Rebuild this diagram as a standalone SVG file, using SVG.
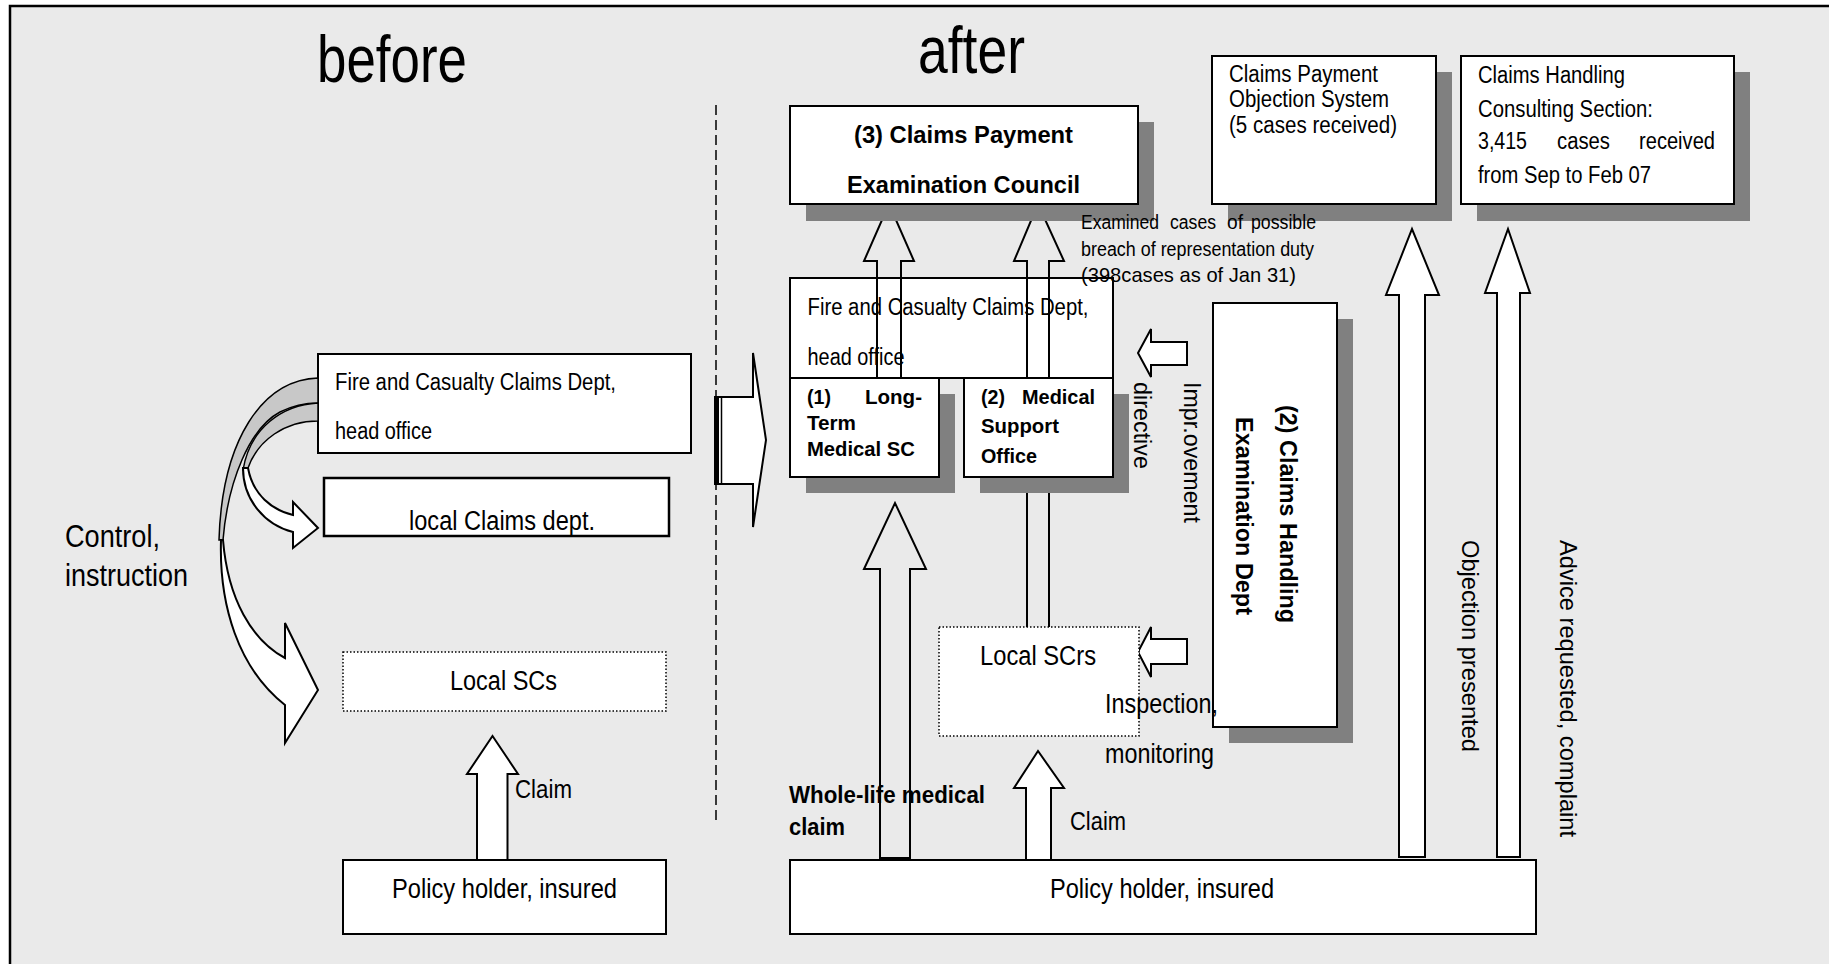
<svg xmlns="http://www.w3.org/2000/svg" width="1829" height="964" viewBox="0 0 1829 964">
<style>
.t{font-family:"Liberation Sans",Arial,Helvetica,sans-serif;fill:#000}
.b{font-weight:bold}
.box{fill:#fff;stroke:#000;stroke-width:2}
.dot{fill:#fff;stroke:#000;stroke-width:1.5;stroke-dasharray:1.5 2}
.sh{fill:#808080}
.aw{fill:#fff;stroke:#000;stroke-width:2;stroke-linejoin:miter}
.ao{fill:none;stroke:#000;stroke-width:2;stroke-linejoin:miter}
.gb{fill:#c8c8c8;stroke:#000;stroke-width:1.5}
</style>
<rect x="0" y="0" width="1829" height="964" fill="#fff"/>
<rect x="10" y="6" width="1840" height="980" fill="#eaeaea" stroke="#000" stroke-width="2.5"/>
<g id="divider"><line x1="716" y1="105" x2="716" y2="822" stroke="#000" stroke-width="1.5" stroke-dasharray="10 5"/></g>
<g id="heading-before"><text class="t" x="317" y="82" font-size="67" textLength="150" lengthAdjust="spacingAndGlyphs">before</text></g>
<g id="heading-after"><text class="t" x="918" y="73" font-size="67" textLength="107" lengthAdjust="spacingAndGlyphs">after</text></g>

<g id="ho-before">
<rect class="box" x="318" y="354" width="373" height="99"/>
<text class="t" x="335" y="390" font-size="23" textLength="281" lengthAdjust="spacingAndGlyphs">Fire and Casualty Claims Dept,</text>
<text class="t" x="335" y="439" font-size="23" textLength="97" lengthAdjust="spacingAndGlyphs">head office</text>
</g>
<g id="local-claims">
<rect x="324" y="478" width="345" height="58" fill="#fff" stroke="#000" stroke-width="2.5"/>
<text class="t" x="409" y="530" font-size="27" textLength="186" lengthAdjust="spacingAndGlyphs">local Claims dept.</text>
</g>
<g id="ho-after">
<rect class="box" x="790" y="278" width="323" height="100"/>
<text class="t" x="807.5" y="315" font-size="23" textLength="281" lengthAdjust="spacingAndGlyphs">Fire and Casualty Claims Dept,</text>
<text class="t" x="807.5" y="365" font-size="23" textLength="97" lengthAdjust="spacingAndGlyphs">head office</text>
</g>

<g id="connectors">
<path class="gb" d="M318,378 C262,380 222,440 219,540 L223,540 C228,480 250,428 280,412 C292,406 305,403 318,403 Z"/>
<path class="gb" d="M318,403 C282,405 250,428 243,470 L248,468 C258,440 285,421 318,421 Z"/>
<path class="aw" stroke-width="1.5" d="M221,540 C219,605 238,668 285,705 L285,743 L318,690 L285,623 L285,658 C252,640 228,600 223,540 Z"/>
<path class="aw" stroke-width="1.5" d="M243,468 C243,500 265,525 293,532 L293,548 L318,528 L293,502 L293,515 C272,510 253,495 248,468 Z"/>
<path class="aw" d="M477,860 V774 H467 L492.5,736 L518,774 H507.5 V860 Z"/>
<path class="aw" d="M715,397 H753 V353 L766,440 L753,527 V484 H715 Z"/>
<rect x="715" y="397" width="4" height="87" fill="#000"/>
<line x1="721.5" y1="397" x2="721.5" y2="484" stroke="#000" stroke-width="1.5"/>
<path class="ao" d="M877,378 V261 H864 L889,204 L914,261 H901 V378"/>
<path class="ao" d="M1027,627 V261 H1014 L1038,204 L1064,261 H1049 V627"/>
<path class="ao" d="M880,858 V569 H864 L895,503 L926,569 H910 V858 Z"/>
<path class="aw" d="M1026,860 V788 H1014 L1038,751 L1064,788 H1051 V860 Z"/>
<path class="aw" d="M1399,857 V295 H1386 L1412,229 L1439,295 H1425 V857 Z"/>
<path class="aw" d="M1497,857 V293 H1485 L1508,229 L1530,293 H1520 V857 Z"/>
<path class="aw" d="M1187,342 H1151 V329 L1138,353 L1151,377 V365 H1187 Z"/>
<path class="aw" d="M1187,639 H1151 V627 L1138,652 L1151,677 V664 H1187 Z"/>
</g>

<g id="local-scs">
<rect class="dot" x="343" y="652" width="323" height="59"/>
<text class="t" x="450" y="690" font-size="27" textLength="107" lengthAdjust="spacingAndGlyphs">Local SCs</text>
</g>
<g id="ph-before">
<rect class="box" x="343" y="860" width="323" height="74"/>
<text class="t" x="392" y="898" font-size="27" textLength="225" lengthAdjust="spacingAndGlyphs">Policy holder, insured</text>
</g>
<g id="council">
<rect class="sh" x="806" y="122" width="348" height="99"/>
<rect class="box" x="790" y="106" width="348" height="98"/>
<text class="t b" x="854" y="143" font-size="24" textLength="219" lengthAdjust="spacingAndGlyphs">(3) Claims Payment</text>
<text class="t b" x="847" y="193" font-size="24" textLength="233" lengthAdjust="spacingAndGlyphs">Examination Council</text>
</g>
<g id="longterm">
<rect class="sh" x="806" y="394" width="149" height="99"/>
<rect class="box" x="790" y="378" width="149" height="99"/>
<text class="t b" x="807" y="404" font-size="21" textLength="24" lengthAdjust="spacingAndGlyphs">(1)</text>
<text class="t b" x="865" y="404" font-size="21" textLength="57" lengthAdjust="spacingAndGlyphs">Long-</text>
<text class="t b" x="807" y="430" font-size="21" textLength="49" lengthAdjust="spacingAndGlyphs">Term</text>
<text class="t b" x="807" y="456" font-size="21" textLength="108" lengthAdjust="spacingAndGlyphs">Medical SC</text>
</g>
<g id="medsupport">
<rect class="sh" x="980" y="394" width="149" height="99"/>
<rect class="box" x="964" y="378" width="149" height="99"/>
<text class="t b" x="981" y="404" font-size="21" textLength="24" lengthAdjust="spacingAndGlyphs">(2)</text>
<text class="t b" x="1022" y="404" font-size="21" textLength="73" lengthAdjust="spacingAndGlyphs">Medical</text>
<text class="t b" x="981" y="433" font-size="21" textLength="78" lengthAdjust="spacingAndGlyphs">Support</text>
<text class="t b" x="981" y="463" font-size="21" textLength="56" lengthAdjust="spacingAndGlyphs">Office</text>
</g>
<g id="local-scrs">
<rect class="dot" x="939" y="627" width="200" height="109"/>
<text class="t" x="980" y="665" font-size="27" textLength="116" lengthAdjust="spacingAndGlyphs">Local SCrs</text>
</g>
<g id="ph-after">
<rect class="box" x="790" y="860" width="746" height="74"/>
<text class="t" x="1050" y="898" font-size="27" textLength="224" lengthAdjust="spacingAndGlyphs">Policy holder, insured</text>
</g>
<g id="objection-system">
<rect class="sh" x="1228" y="72" width="224" height="149"/>
<rect class="box" x="1212" y="56" width="224" height="148"/>
<text class="t" x="1229" y="82" font-size="23" textLength="149" lengthAdjust="spacingAndGlyphs">Claims Payment</text>
<text class="t" x="1229" y="107" font-size="23" textLength="160" lengthAdjust="spacingAndGlyphs">Objection System</text>
<text class="t" x="1229" y="133" font-size="23" textLength="168" lengthAdjust="spacingAndGlyphs">(5 cases received)</text>
</g>
<g id="consulting">
<rect class="sh" x="1477" y="72" width="273" height="149"/>
<rect class="box" x="1461" y="56" width="273" height="148"/>
<text class="t" x="1478" y="83" font-size="23" textLength="147" lengthAdjust="spacingAndGlyphs">Claims Handling</text>
<text class="t" x="1478" y="117" font-size="23" textLength="175" lengthAdjust="spacingAndGlyphs">Consulting Section:</text>
<text class="t" x="1478" y="149" font-size="23" textLength="49" lengthAdjust="spacingAndGlyphs">3,415</text>
<text class="t" x="1557" y="149" font-size="23" textLength="53" lengthAdjust="spacingAndGlyphs">cases</text>
<text class="t" x="1639" y="149" font-size="23" textLength="76" lengthAdjust="spacingAndGlyphs">received</text>
<text class="t" x="1478" y="183" font-size="23" textLength="173" lengthAdjust="spacingAndGlyphs">from Sep to Feb 07</text>
</g>
<g id="claims-exam">
<rect class="sh" x="1229" y="319" width="124" height="424"/>
<rect class="box" x="1213" y="303" width="124" height="424"/>
<text class="t b" transform="translate(1280,405) rotate(90)" font-size="23" textLength="218" lengthAdjust="spacingAndGlyphs">(2) Claims Handling</text>
<text class="t b" transform="translate(1236,417) rotate(90)" font-size="23" textLength="198" lengthAdjust="spacingAndGlyphs">Examination Dept</text>
</g>

<g id="labels">
<text class="t" x="65" y="547" font-size="31" textLength="95" lengthAdjust="spacingAndGlyphs">Control,</text>
<text class="t" x="65" y="586" font-size="31" textLength="123" lengthAdjust="spacingAndGlyphs">instruction</text>
<text class="t" x="515" y="798" font-size="26" textLength="57" lengthAdjust="spacingAndGlyphs">Claim</text>
<text class="t" x="1081" y="229" font-size="20" textLength="78" lengthAdjust="spacingAndGlyphs">Examined</text>
<text class="t" x="1170" y="229" font-size="20" textLength="46" lengthAdjust="spacingAndGlyphs">cases</text>
<text class="t" x="1227" y="229" font-size="20" textLength="16" lengthAdjust="spacingAndGlyphs">of</text>
<text class="t" x="1251" y="229" font-size="20" textLength="65" lengthAdjust="spacingAndGlyphs">possible</text>
<text class="t" x="1081" y="256" font-size="20" textLength="233" lengthAdjust="spacingAndGlyphs">breach of representation duty</text>
<text class="t" x="1081" y="282" font-size="21" textLength="215" lengthAdjust="spacingAndGlyphs">(398cases as of Jan 31)</text>
<text class="t" transform="translate(1184,382) rotate(90)" font-size="23" textLength="141" lengthAdjust="spacingAndGlyphs">Impr.ovement</text>
<text class="t" transform="translate(1134,382) rotate(90)" font-size="23" textLength="87" lengthAdjust="spacingAndGlyphs">directive</text>
<text class="t" x="1105" y="713" font-size="27" textLength="113" lengthAdjust="spacingAndGlyphs">Inspection,</text>
<text class="t" x="1105" y="763" font-size="27" textLength="109" lengthAdjust="spacingAndGlyphs">monitoring</text>
<text class="t b" x="789" y="803" font-size="24" textLength="196" lengthAdjust="spacingAndGlyphs">Whole-life medical</text>
<text class="t b" x="789" y="835" font-size="24" textLength="56" lengthAdjust="spacingAndGlyphs">claim</text>
<text class="t" x="1070" y="830" font-size="26" textLength="56" lengthAdjust="spacingAndGlyphs">Claim</text>
<text class="t" transform="translate(1462,540) rotate(90)" font-size="24" textLength="212" lengthAdjust="spacingAndGlyphs">Objection presented</text>
<text class="t" transform="translate(1560,540) rotate(90)" font-size="24" textLength="297" lengthAdjust="spacingAndGlyphs">Advice requested, complaint</text>
</g>
</svg>
